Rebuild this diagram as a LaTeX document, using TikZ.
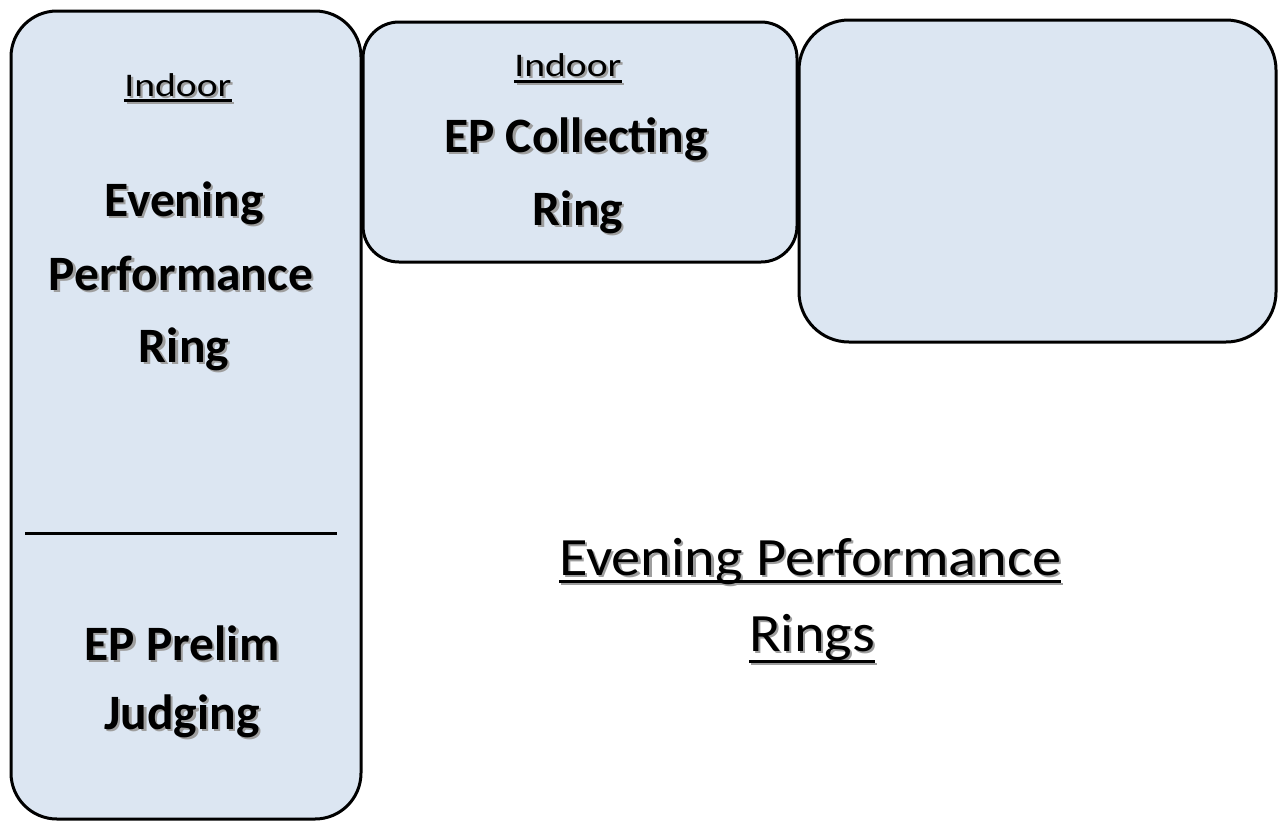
\documentclass[tikz,border=0pt]{standalone}
\usepackage{fontspec}
\setmainfont{Carlito}
\definecolor{boxfill}{HTML}{DCE6F2}
\definecolor{shadowgray}{gray}{0.62}
\newcommand\shtext[1]{\leavevmode\rlap{\kern2.2pt\raisebox{-2.2pt}{\color{shadowgray}#1}}#1}
\newcommand\ultext[2][7pt]{\setbox0=\hbox{#2}\rlap{\rule[-#1]{\wd0}{2.6pt}}\box0}
\begin{document}
\begin{tikzpicture}[x=1pt,y=-1pt,
  ring/.style={draw=black,line width=3pt,fill=boxfill},
  bigbold/.style={anchor=base,inner sep=0pt,font=\fontsize{49.5}{52}\selectfont\bfseries},
  small/.style={anchor=base,inner sep=0pt,font=\fontsize{33}{36}\selectfont},
  title/.style={anchor=base,inner sep=0pt,font=\fontsize{54}{58}\selectfont}]
\useasboundingbox (0,0) rectangle (1279,822);
\fill[white] (0,0) rectangle (1279,822);
% boxes
\draw[ring,rounded corners=46pt] (11,11) rectangle (361,819);
\draw[ring,rounded corners=36pt] (363,22) rectangle (797,262);
\draw[ring,rounded corners=50pt] (799,20) rectangle (1276,342);
% divider
\coordinate (dl) at (25,533);
\coordinate (dr) at (337,533);
\draw[line width=3pt,black] (dl) -- (dr);
% left box texts
\node[small] (in1) at (178,96) {\shtext{\ultext[6pt]{\scalebox{1.2}[1]{Indoor}}}};
\node[bigbold] (ev) at (184,216) {\shtext{Evening}};
\node[bigbold] (pf) at (181,290) {\shtext{Performance}};
\node[bigbold] (rg1) at (184,362) {\shtext{Ring}};
\node[bigbold] (epp) at (182,660) {\shtext{EP Prelim}};
\node[bigbold] (jd) at (182,729) {\shtext{Judging}};
% middle box texts
\node[small] (in2) at (568,76) {\shtext{\ultext[7pt]{\scalebox{1.2}[1]{Indoor}}}};
\node[bigbold] (epc) at (576,152) {\shtext{EP Collecting}};
\node[bigbold] (rg2) at (578,225) {\shtext{Ring}};
% title
\node[title] (t1) at (810,575) {\shtext{\ultext[8pt]{\scalebox{1.08}[1]{Evening Performance}}}};
\node[title] (t2) at (812,651) {\shtext{\ultext[12pt]{\scalebox{1.08}[1]{Rings}}}};
\end{tikzpicture}
\end{document}
